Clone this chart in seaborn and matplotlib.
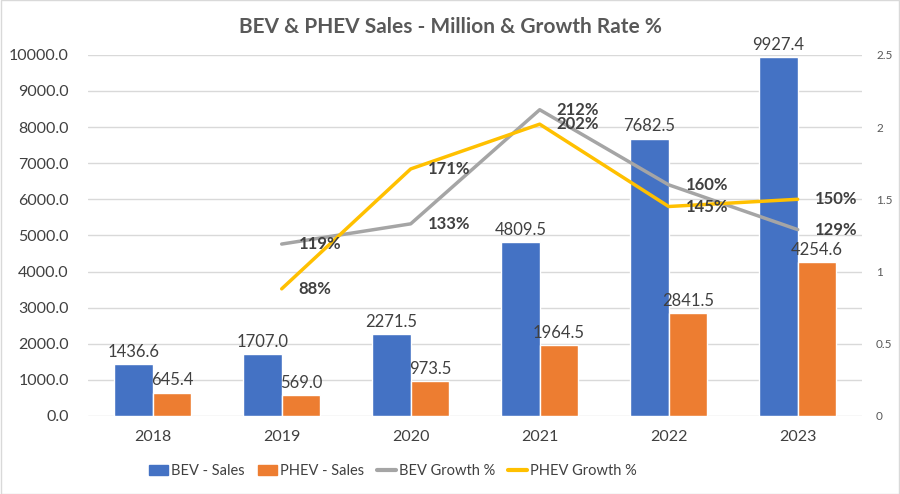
"""BEV & PHEV sales (bars) with growth rate (lines on a secondary axis)."""
import matplotlib
matplotlib.use("Agg")
import matplotlib.pyplot as plt
from matplotlib.lines import Line2D
from matplotlib.patches import Patch
import numpy as np
import pandas as pd
import seaborn as sns

# -- Data ----------------------------------------------------------------------
YEARS = ["2018", "2019", "2020", "2021", "2022", "2023"]
BEV_SALES = [1436.6, 1707.0, 2271.5, 4809.5, 7682.5, 9927.4]
PHEV_SALES = [645.4, 569.0, 973.5, 1964.5, 2841.5, 4254.6]
GROWTH_YEARS = ["2019", "2020", "2021", "2022", "2023"]
BEV_GROWTH = [1.19, 1.33, 2.12, 1.60, 1.29]
PHEV_GROWTH = [0.88, 1.71, 2.02, 1.45, 1.50]

BLUE = "#4472C4"
ORANGE = "#ED7D31"
GREY = "#A5A5A5"
YELLOW = "#FFC000"
TEXT = "#404040"

sns.set_theme(style="white")
plt.rcParams["font.family"] = ["Lato", "DejaVu Sans"]

sales = pd.DataFrame({
    "year": YEARS * 2,
    "sales": BEV_SALES + PHEV_SALES,
    "series": ["BEV - Sales"] * len(YEARS) + ["PHEV - Sales"] * len(YEARS),
})

fig = plt.figure(figsize=(9, 4.94), dpi=100)
ax = fig.add_axes([0.098, 0.158, 0.86, 0.731])

sns.barplot(data=sales, x="year", y="sales", hue="series", order=YEARS,
            palette=[BLUE, ORANGE], saturation=1, width=0.6, legend=False, ax=ax)

for cont in ax.containers:
    ax.bar_label(cont, fmt="%.1f", padding=3, fontsize=12, color=TEXT)

ax.set_ylim(0, 10000)
ax.set_xlim(-0.5, len(YEARS) - 0.5)
ax.set_yticks(np.arange(0, 10001, 1000))
ax.set_yticklabels([f"{v:.1f}" for v in np.arange(0, 10001, 1000)])
ax.yaxis.grid(True, color="#D9D9D9", linewidth=1)
ax.set_axisbelow(True)
ax.set_xlabel("")
ax.set_ylabel("")
ax.tick_params(axis="both", length=0, labelsize=11.5, labelcolor=TEXT)
ax.tick_params(axis="y", pad=14)
ax.tick_params(axis="x", pad=10)
for sp in ax.spines.values():
    sp.set_visible(False)

# -- Growth lines on secondary axis --------------------------------------------
ax2 = ax.twinx()
gx = [YEARS.index(y) for y in GROWTH_YEARS]
sns.lineplot(x=gx, y=BEV_GROWTH, color=GREY, linewidth=2.5, ax=ax2)
sns.lineplot(x=gx, y=PHEV_GROWTH, color=YELLOW, linewidth=2.5, ax=ax2)
for xs, ys in ((gx, BEV_GROWTH), (gx, PHEV_GROWTH)):
    for x, y in zip(xs, ys):
        ax2.annotate(f"{y * 100:.0f}%", (x, y), xytext=(12, 0), textcoords="offset points",
                     ha="left", va="center", fontsize=12, fontweight="bold", color=TEXT)

ax2.set_ylim(0, 2.5)
ax2.set_yticks([0, 0.5, 1, 1.5, 2, 2.5])
ax2.set_yticklabels(["0", "0.5", "1", "1.5", "2", "2.5"])
ax2.tick_params(axis="y", length=0, labelsize=8.5, labelcolor="#595959", pad=10)
for sp in ax2.spines.values():
    sp.set_visible(False)

fig.suptitle("BEV & PHEV Sales - Million & Growth Rate %", x=0.5, y=0.965,
             fontsize=15, fontweight="bold", color="#595959")

handles = [
    Patch(color=BLUE, label="BEV - Sales"),
    Patch(color=ORANGE, label="PHEV - Sales"),
    Line2D([], [], color=GREY, linewidth=3, label="BEV Growth %"),
    Line2D([], [], color=YELLOW, linewidth=3, label="PHEV Growth %"),
]
fig.legend(handles=handles, loc="center", bbox_to_anchor=(0.437, 0.047), ncol=4,
           frameon=False, fontsize=10.5, handlelength=1.3, handleheight=0.7,
           handletextpad=0.2, columnspacing=0.9, labelcolor=TEXT)

fig.patches.append(plt.Rectangle((0.001, 0.001), 0.998, 0.998, transform=fig.transFigure,
                                 fill=False, edgecolor="#D9D9D9", linewidth=1))

fig.savefig("out.png", dpi=100)
